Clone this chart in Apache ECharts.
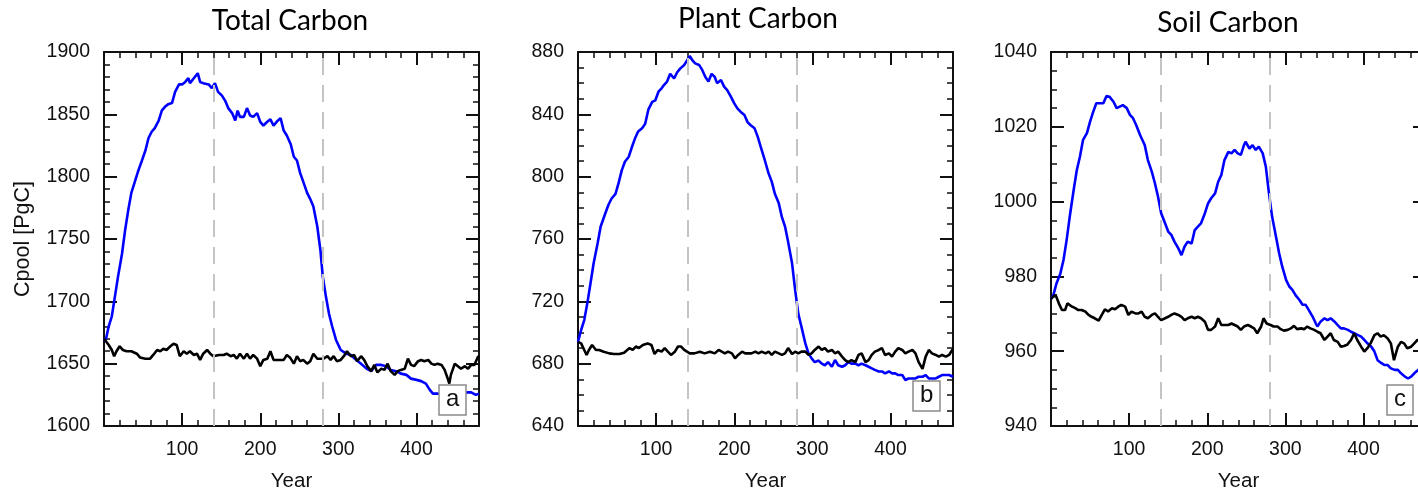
<!DOCTYPE html>
<html><head><meta charset="utf-8">
<script src="https://cdn.jsdelivr.net/npm/echarts@6/dist/echarts.min.js"></script>
<style>html,body{margin:0;padding:0;background:#fff}#c{width:1418px;height:491px}</style>
</head><body><div id="c"></div>
<script>
// ---------- data ----------
const panelTitles = ['Total Carbon', 'Plant Carbon', 'Soil Carbon'];
const panelTags = ['a', 'b', 'c'];
const yAxisName = 'Cpool [PgC]';
const xAxisName = 'Year';
const xMin = 0, xMax = 480, xMajor = 100, xMinor = 20;
const yMins = [1600, 640, 940];
const yMaxs = [1900, 880, 1040];
const yMajors = [50, 40, 20];
const yMinorSplits = [5, 4, 4];
const dashedYears = [140, 280];

// Total carbon
const totalBlueYears = [0,3,6,10,14,18,23,27,31,35,40,44,48,53,57,61,65,70,74,78,82,87,91,96,100,104,108,110,115,120,123,127,134,138,142,146,151,155,159,164,168,171,174,179,183,187,191,196,200,204,209,213,217,221,226,230,234,239,243,247,251,255,260,264,268,273,277,280,284,288,292,297,303,310,316,323,329,336,342,348,355,361,367,374,380,387,393,400,406,412,417,421,427,434,440,447,453,460,465,470,476,480];
const totalBlue = [1668,1671,1680,1688,1704,1720,1738,1757,1773,1787,1797,1805,1812,1821,1831,1836,1839,1845,1853,1856,1858,1859,1868,1874,1874,1876,1879,1875,1879,1883,1876,1875,1874,1871,1875,1868,1865,1861,1855,1851,1845,1853,1848,1848,1855,1849,1848,1851,1844,1841,1844,1846,1841,1844,1847,1837,1833,1826,1816,1813,1803,1796,1787,1782,1776,1760,1741,1720,1704,1690,1680,1669,1661,1658,1657,1653,1650,1646,1644,1649,1649,1648,1645,1644,1642,1641,1638,1637,1636,1634,1629,1626,1626,1625,1625,1626,1625,1626,1627,1627,1625,1626];
const totalBlackYears = [0,1,6,10,13,16,20,24,29,35,42,46,53,59,63,68,72,76,80,85,89,93,97,102,106,110,115,119,123,127,132,136,140,147,153,157,162,166,170,174,179,183,187,191,196,200,204,209,213,217,221,226,230,234,238,243,247,251,255,260,264,268,273,277,281,286,290,294,298,303,307,311,316,320,324,329,333,337,342,346,350,355,359,363,367,372,376,380,385,389,393,397,402,406,410,415,419,423,427,432,436,440,442,444,449,453,457,462,466,470,474,479,480];
const totalBlack = [1670,1669,1665,1661,1656,1660,1664,1661,1660,1660,1658,1655,1654,1654,1657,1661,1660,1662,1661,1664,1666,1665,1656,1660,1658,1660,1657,1658,1653,1658,1661,1658,1656,1657,1657,1658,1656,1657,1654,1658,1654,1658,1654,1657,1654,1648,1653,1654,1660,1653,1653,1653,1653,1657,1655,1650,1656,1652,1653,1650,1652,1658,1654,1654,1654,1656,1653,1656,1652,1653,1656,1660,1656,1657,1652,1656,1653,1648,1644,1649,1643,1646,1645,1650,1644,1641,1644,1645,1646,1654,1649,1648,1652,1653,1652,1653,1650,1649,1650,1649,1645,1638,1634,1641,1650,1648,1646,1648,1646,1649,1649,1656,1655];

// Plant carbon
const plantBlueYears = [0,4,8,12,16,20,25,29,35,39,43,48,52,56,60,65,69,73,77,82,86,90,95,99,103,107,110,114,118,123,127,131,136,140,143,146,150,155,159,163,167,171,175,178,183,187,191,196,200,204,208,213,217,221,226,230,234,239,244,248,252,257,261,265,269,274,278,282,286,291,295,299,303,308,312,316,320,325,329,333,338,342,346,350,355,359,363,368,372,376,380,385,389,393,398,402,406,410,415,419,423,428,432,436,441,445,449,453,458,462,466,471,475,480];
const plantBlue = [694,701.6,708,719,731.6,744.4,757,768,776.5,782,786,789,796,804,809.6,812.8,819,824.6,829,831,834,843,848,849,854.5,856.7,858.8,861,866,863,867,869.5,871.7,874.9,877.4,875,872.7,871.7,868.5,864,861,866,864,860,862,857.8,855.6,851,847,843.8,841.7,839.6,835,833,831,825.7,819,810.7,802,796.8,789,783,774,768,758,744.4,727,712,703.7,693,686.6,683.4,681,682,680,679,681,678,682.4,679,678,679,681,680,680,679,680,679,678,677,676,675,675,673.8,675,673.8,673.8,672.7,672.7,669.5,670.5,670.5,670.5,671.6,671.6,672.7,670.5,670.5,670.5,671.6,672.7,672.7,672.7,671.6];
const plantBlackYears = [0,4,8,11,14,18,23,27,33,40,46,53,59,66,70,74,78,83,89,94,98,102,107,111,115,119,124,128,132,136,143,149,156,162,169,175,180,184,188,192,197,201,205,210,214,218,222,227,231,235,240,244,248,252,257,261,265,269,274,278,282,286,291,295,299,303,308,312,316,320,325,329,333,338,342,346,350,355,359,363,368,372,376,380,385,389,393,398,402,406,410,415,419,423,428,432,436,441,445,449,453,458,462,466,471,475,479,480];
const plantBlack = [694,693,688.8,685.6,688.8,692,688.8,688.8,687.7,686.6,686.2,686.2,687,690,688.8,691,690,692,693,692,686.2,688.8,687.7,690,687.7,685.6,687.7,691,691,688.8,686.6,686.6,687.7,686.6,687.7,686.6,688.8,687.7,686.6,687.7,686.6,683.4,685.6,687.7,686.6,686.6,686.6,687.7,686.6,687.7,686.6,687.7,685.6,687.7,686.6,685.6,686.6,690,686.2,687.7,686.6,687.7,687.7,685.6,686.6,688.8,691,688.8,690,687.7,688.8,686.6,687.7,684.5,682.3,681,682.3,681,685.6,686.6,681,682.3,685.6,687.7,688.8,690,685.6,686.6,684.5,687.7,690,688.8,686.6,687.7,688.8,686.6,681,676.7,684.5,688.8,686.6,685.6,684.5,685.6,684.5,685.6,688.8,689];

// Soil carbon
const soilBlueYears = [0,3,7,12,16,20,24,29,33,37,41,46,50,54,58,63,67,71,75,80,84,88,92,97,101,105,109,114,118,120,124,129,133,137,141,146,150,154,158,163,167,171,175,180,184,188,192,197,201,205,210,214,218,222,227,231,235,239,243,247,249,254,258,262,266,271,275,279,283,288,292,296,301,305,309,313,318,322,326,330,335,339,341,345,350,354,358,363,367,371,375,380,384,388,393,397,401,405,410,414,418,423,427,431,435,440,444,448,453,457,461,465,470,475,480];
const soilBlue = [974,975,978.1,980.8,984.4,989.7,996,1003.1,1008.4,1012,1016.5,1018.3,1021.4,1024,1026.3,1026.3,1026.3,1028.2,1028,1026.7,1025,1025.4,1025.8,1025,1023.2,1022.3,1020.5,1017.8,1016,1015.1,1011.1,1008,1004.9,1001.3,996.9,994.2,992,991.1,989.3,987.5,985.7,988,989.3,988.8,992.4,993.3,994.2,996.9,999.5,1000.9,1002.2,1005.3,1007.1,1011.1,1013.3,1012.9,1013.8,1012.9,1012.5,1015.1,1016,1014.2,1015.1,1013.8,1014.7,1012.9,1009.3,1002.2,996,990.6,986.2,982.6,979,977.3,976.4,975,973.7,972.4,972.4,971,969.2,967.4,966.6,967.9,968.8,968.3,968.8,967.9,967,966.1,966.1,965.7,965.2,964.8,964.3,963.9,963,962.1,961.2,959.9,957.6,956.8,956.3,956.3,955.4,955,955,954.1,953.2,952.7,953.2,954.1,955,955.8,956.5];
const soilBlackYears = [0,3,6,10,14,18,21,27,31,35,39,44,48,52,56,61,65,69,73,78,82,86,90,95,99,103,108,112,116,120,124,129,133,137,141,146,150,154,158,163,167,171,175,180,184,188,192,197,201,205,210,214,218,222,227,231,235,239,243,247,252,256,260,264,269,272,276,281,285,290,294,298,303,307,311,315,320,324,328,332,337,341,345,350,354,358,362,367,371,375,379,384,388,392,397,401,405,409,414,418,422,426,431,435,439,444,448,452,456,461,465,469,475,480];
const soilBlack = [974,974.6,975,972.8,971,971,972.8,971.9,971.5,971,971,970.6,969.7,969.2,968.8,968.2,969.7,971.2,970.6,971.5,971.2,971.9,972.4,971.9,969.7,970.6,970.1,970.1,970.6,969.2,968.8,969.7,970.1,969.2,968.3,968.8,969.2,969.7,970.1,969.7,969.2,968.3,968.8,969.2,968.8,969.2,968.8,967.9,965.7,965.7,966.6,968.8,967,967,967,967.4,967,966.6,965.7,966.6,967,966.6,966.1,964.8,966.6,968.8,967.4,967,966.6,966.6,965.9,965.5,965.7,966.1,966.8,965.9,966.1,965.9,966.6,966.1,965.7,965.2,964.8,963,963.9,964.8,963,962.5,961.2,961.4,961.7,963,964.8,963,961.2,959.9,960.8,962.1,964.3,964.8,963.9,964.3,963.4,962.1,957.6,961.2,962.5,962.1,960.8,961.2,962.1,963,962.8,962];

const blueYears = [totalBlueYears, plantBlueYears, soilBlueYears];
const blueVals = [totalBlue, plantBlue, soilBlue];
const blackYears = [totalBlackYears, plantBlackYears, soilBlackYears];
const blackVals = [totalBlack, plantBlack, soilBlack];

// ---------- layout / style ----------
const gridLefts = [104, 578, 1051];
const gridW = 375, gridTop = 52, gridH = 374;
const titleCenters = [290, 758, 1228];
const titleTops = [7, 5, 9];
const tagBoxes = [[439, 385], [913, 381], [1387, 385]];
const axisFont = 'Liberation Sans';
const ink = '#111';
const plainNum = v => String(v);

const pairs = (xs, ys) => xs.map((x, i) => [x, ys[i]]);

const grids = [], xAxes = [], yAxes = [], series = [], titles = [];
for (let p = 0; p < 3; p++) {
  grids.push({ left: gridLefts[p], top: gridTop, width: gridW, height: gridH, containLabel: false, outerBoundsMode: 'none' });
  const base = xAxes.length;
  const lineCommon = { show: true, onZero: false, lineStyle: { color: ink, width: 2 } };
  // bottom major
  xAxes.push({
    type: 'value', gridIndex: p, position: 'bottom', min: xMin, max: xMax, interval: xMajor,
    axisLine: lineCommon,
    axisTick: { show: true, inside: true, length: 13, lineStyle: { color: ink, width: 2 } },
    axisLabel: { show: true, margin: 14, fontSize: 19.5, color: ink, fontFamily: axisFont, formatter: plainNum, showMinLabel: false, showMaxLabel: false },
    splitLine: { show: false },
    name: xAxisName, nameLocation: 'middle', nameGap: 45,
    nameTextStyle: { fontSize: 20.5, color: ink, fontFamily: axisFont }
  });
  // bottom minor
  xAxes.push({
    type: 'value', gridIndex: p, position: 'bottom', min: xMin, max: xMax, interval: xMinor,
    axisLine: { show: false }, axisLabel: { show: false }, splitLine: { show: false },
    axisTick: { show: true, inside: true, length: 6, lineStyle: { color: ink, width: 1.5 } }
  });
  // top major
  xAxes.push({
    type: 'value', gridIndex: p, position: 'top', min: xMin, max: xMax, interval: xMajor,
    axisLine: lineCommon, axisLabel: { show: false }, splitLine: { show: false },
    axisTick: { show: true, inside: true, length: 13, lineStyle: { color: ink, width: 2 } }
  });
  // top minor
  xAxes.push({
    type: 'value', gridIndex: p, position: 'top', min: xMin, max: xMax, interval: xMinor,
    axisLine: { show: false }, axisLabel: { show: false }, splitLine: { show: false },
    axisTick: { show: true, inside: true, length: 6, lineStyle: { color: ink, width: 1.5 } }
  });
  const yBase = yAxes.length;
  const yCommon = {
    type: 'value', gridIndex: p, min: yMins[p], max: yMaxs[p], interval: yMajors[p],
    axisLine: lineCommon, splitLine: { show: false }, minorSplitLine: { show: false },
    axisTick: { show: true, inside: true, length: 13, lineStyle: { color: ink, width: 2 } },
    minorTick: { show: true, splitNumber: yMinorSplits[p], length: 6, lineStyle: { color: ink, width: 1.5 } }
  };
  yAxes.push(Object.assign({}, yCommon, {
    position: 'left',
    axisLabel: { show: true, margin: 14, fontSize: 19.5, color: ink, fontFamily: axisFont, formatter: plainNum },
    name: p === 0 ? yAxisName : '', nameLocation: 'middle', nameGap: 70,
    nameTextStyle: { fontSize: 21.5, color: ink, fontFamily: axisFont }
  }));
  yAxes.push(Object.assign({}, yCommon, { position: 'right', axisLabel: { show: false } }));

  series.push({
    type: 'line', xAxisIndex: base, yAxisIndex: yBase, data: pairs(blueYears[p], blueVals[p]),
    showSymbol: false, symbol: 'none', lineStyle: { color: '#0000ff', width: 2.6 }, z: 3, animation: false,
    markLine: {
      silent: true, symbol: 'none', animation: false,
      lineStyle: { color: '#c4c4c4', width: 2, type: [17, 10] },
      label: { show: false },
      data: dashedYears.map(v => ({ xAxis: v }))
    }
  });
  series.push({
    type: 'line', xAxisIndex: base, yAxisIndex: yBase, data: pairs(blackYears[p], blackVals[p]),
    showSymbol: false, symbol: 'none', lineStyle: { color: '#000', width: 2.6 }, z: 4, animation: false
  });

  titles.push({
    text: panelTitles[p], left: titleCenters[p], top: titleTops[p], textAlign: 'center', padding: 0,
    textStyle: { fontFamily: 'Lato', fontSize: 28, fontWeight: 'normal', color: '#000' }
  });
  titles.push({
    text: panelTags[p], left: tagBoxes[p][0], top: tagBoxes[p][1],
    padding: [2, 7, 4, 7], borderColor: '#8a8a8a', borderWidth: 1.5, backgroundColor: '#fff', z: 10,
    textStyle: { fontFamily: axisFont, fontSize: 24, fontWeight: 'normal', color: '#111' }
  });
}

const chart = echarts.init(document.getElementById('c'), null, { renderer: 'canvas' });
chart.setOption({
  animation: false,
  backgroundColor: '#fff',
  title: titles,
  grid: grids,
  xAxis: xAxes,
  yAxis: yAxes,
  series: series
});
</script></body></html>
